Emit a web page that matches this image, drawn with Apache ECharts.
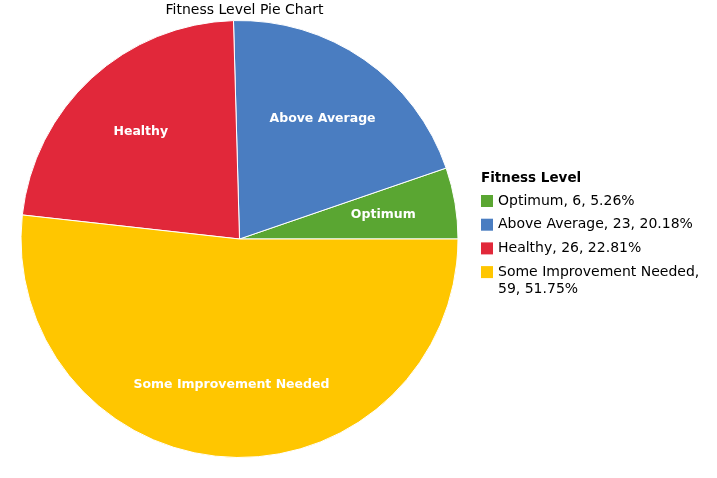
<!DOCTYPE html>
<html><head><meta charset="utf-8">
<script src="https://cdn.jsdelivr.net/npm/echarts@6/dist/echarts.min.js"></script>
<style>html,body{margin:0;padding:0;background:#fff}#c{width:717px;height:478px}</style>
</head><body><div id="c"></div>
<script>
const categories = ['Optimum', 'Above Average', 'Healthy', 'Some Improvement Needed'];
const values = [6, 23, 26, 59];
const colors = ['#5AA632', '#4A7DC1', '#E1283A', '#FFC600'];

const total = values.reduce((a, b) => a + b, 0);
const pct = i => (values[i] / total * 100).toFixed(2) + '%';
const last = categories.length - 1;
const pieData = categories.map((n, i) => ({ name: n, value: values[i], itemStyle: { color: colors[i] } }));
const FONT = 'DejaVu Sans, Verdana, sans-serif';
const R = 218.5, CX = 239.5, CY = 239;

const chart = echarts.init(document.getElementById('c'), null, { renderer: 'canvas' });
chart.setOption({
  animation: false,
  title: [
    { text: 'Fitness Level Pie Chart', left: CX, top: -3, textAlign: 'center',
      textStyle: { fontFamily: FONT, fontSize: 14, fontWeight: 'normal', color: '#000', lineHeight: 17 } },
    { text: 'Fitness Level', left: 476, top: 165,
      textStyle: { fontFamily: FONT, fontSize: 13.5, fontWeight: 'bold', color: '#000', lineHeight: 17 } },
    { text: values[last] + ', ' + pct(last), left: 493, top: 275.5,
      textStyle: { fontFamily: FONT, fontSize: 14, fontWeight: 'normal', color: '#000', lineHeight: 17 } }
  ],
  legend: {
    orient: 'vertical', left: 476, top: 187.5,
    icon: 'rect', itemWidth: 12, itemHeight: 12, itemGap: 6.7,
    itemStyle: { borderWidth: 0 },
    textStyle: { fontFamily: FONT, fontSize: 14, color: '#000', lineHeight: 17 },
    data: categories,
    formatter: function (name) {
      const i = categories.indexOf(name);
      return i === last ? name + ',' : name + ', ' + values[i] + ', ' + pct(i);
    }
  },
  series: [
    {
      type: 'pie', center: [CX, CY], radius: [0, R],
      startAngle: 0, clockwise: false, silent: true,
      itemStyle: { borderColor: '#fff', borderWidth: 1 },
      label: { show: false }, labelLine: { show: false },
      data: pieData
    },
    {
      type: 'pie', center: [CX, CY], radius: [67, R],
      startAngle: 0, clockwise: false, silent: true,
      itemStyle: { color: 'rgba(0,0,0,0)', borderWidth: 0 },
      label: { show: true, position: 'inside', color: '#fff', fontFamily: FONT, fontSize: 12.5, fontWeight: 'bold' },
      labelLine: { show: false },
      data: categories.map((n, i) => ({ name: n, value: values[i] }))
    }
  ]
});
</script></body></html>
